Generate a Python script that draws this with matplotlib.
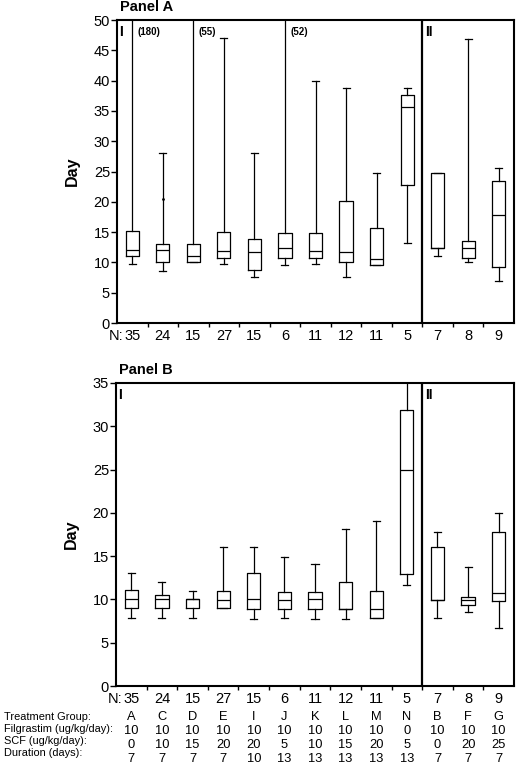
import matplotlib
matplotlib.use('Agg')
import matplotlib.pyplot as plt
import matplotlib.transforms as mtransforms
import numpy as np

plt.rcParams['font.family'] = ['Liberation Sans', 'DejaVu Sans']

# groups in plotting order
groups = ['A', 'C', 'D', 'E', 'I', 'J', 'K', 'L', 'M', 'N', 'B', 'F', 'G']
n_pts = [35, 24, 15, 27, 15, 6, 11, 12, 11, 5, 7, 8, 9]
filgrastim = [10, 10, 10, 10, 10, 10, 10, 10, 10, 0, 10, 10, 10]
scf = [0, 10, 15, 20, 20, 5, 10, 15, 20, 5, 0, 20, 25]
duration = [7, 7, 7, 7, 10, 13, 13, 13, 13, 13, 7, 7, 7]

# Panel A box stats (days)
a_lo = [9.7, 8.6, 10.0, 9.7, 7.6, 9.6, 9.8, 7.6, 9.5, 13.2, 11.1, 10.1, 6.9]
a_q1 = [11.0, 10.0, 10.0, 10.8, 8.8, 10.7, 10.7, 10.1, 9.5, 22.7, 12.4, 10.8, 9.3]
a_med = [12.0, 12.0, 11.0, 11.9, 11.7, 12.3, 11.8, 11.7, 10.6, 35.7, 12.4, 12.4, 17.8]
a_q3 = [15.2, 13.0, 13.0, 15.0, 13.8, 14.8, 14.8, 20.2, 15.6, 37.6, 24.8, 13.5, 23.5]
a_hi = [180, 28.0, 55, 47.0, 28.0, 52, 40.0, 38.8, 24.8, 38.8, 24.8, 46.8, 25.6]
a_out = [[], [20.5], [], [], [], [], [], [], [], [], [], [], []]

# Panel B box stats (days)
b_lo = [7.9, 7.9, 7.9, 9.0, 7.7, 7.8, 7.7, 7.7, 7.9, 11.7, 7.8, 8.6, 6.7]
b_q1 = [9.0, 9.0, 9.0, 9.0, 8.9, 8.9, 8.9, 8.9, 7.9, 12.9, 9.9, 9.4, 9.8]
b_med = [10.0, 10.1, 10.0, 9.9, 10.0, 9.9, 10.0, 8.9, 8.9, 25.0, 9.9, 9.9, 10.8]
b_q3 = [11.1, 10.5, 10.0, 11.0, 13.0, 10.9, 10.9, 12.0, 11.0, 31.9, 16.0, 10.3, 17.8]
b_hi = [13.1, 12.0, 11.0, 16.1, 16.1, 14.9, 14.1, 18.1, 19.1, 38.0, 17.8, 13.7, 20.0]

W, H = 520, 769
fig = plt.figure(figsize=(W / 100, H / 100), dpi=100)


def fy(px):
    return 1 - px / H


def make_stats(lo, q1, med, q3, hi, out=None):
    st = []
    for i in range(len(lo)):
        st.append(dict(whislo=lo[i], q1=q1[i], med=med[i], q3=q3[i], whishi=hi[i],
                       fliers=(out[i] if out else [])))
    return st


def panel(rect, stats, ymax, title):
    ax = fig.add_axes(rect)
    pos = np.arange(1, len(groups) + 1)
    lw = 0.9
    ax.bxp(stats, positions=pos, widths=0.43, capwidths=0.23,
           boxprops=dict(color='black', linewidth=lw),
           whiskerprops=dict(color='black', linewidth=lw),
           capprops=dict(color='black', linewidth=lw),
           medianprops=dict(color='black', linewidth=lw),
           flierprops=dict(marker='o', markersize=1.0, markerfacecolor='black',
                           markeredgecolor='black'))
    ax.set_xlim(0.5, len(groups) + 0.5)
    ax.set_ylim(0, ymax)
    ax.set_yticks(np.arange(0, ymax + 1, 5))
    ax.set_xticks(pos)
    ax.set_xticklabels([str(n) for n in n_pts])
    ax.set_xticks(np.arange(1.5, len(groups), 1), minor=True)
    ax.tick_params(axis='x', which='major', length=0, pad=4.5, labelsize=10.5)
    ax.tick_params(axis='x', which='minor', length=3, width=1)
    ax.tick_params(axis='y', length=4, width=1, labelsize=10.5, pad=1)
    for s in ax.spines.values():
        s.set_linewidth(1.5)
    ax.axvline(10.5, color='black', linewidth=1.6)
    ax.set_ylabel('Day', fontsize=11.5, fontweight='bold', labelpad=10)
    ax.annotate(title, xy=(0.0, 1.0), xycoords='axes fraction',
                xytext=(2, 4), textcoords='offset points', fontsize=10.5,
                fontweight='bold', ha='left', va='bottom')
    ax.text(0.57, ymax * 0.985, 'I', fontsize=10, fontweight='bold', va='top')
    ax.text(10.6, ymax * 0.985, 'II', fontsize=10, fontweight='bold', va='top')
    trans = mtransforms.blended_transform_factory(ax.transData, ax.transAxes)
    ax.annotate('N:', xy=(0.7, 0.0), xycoords=trans, xytext=(0, -4.5),
                textcoords='offset points', ha='right', va='top', fontsize=10.5)
    return ax


axA = panel([117 / W, fy(323), 397 / W, 303 / H],
            make_stats(a_lo, a_q1, a_med, a_q3, a_hi, a_out), 50, 'Panel A')
# whiskers running off the top of panel A
for i, v in enumerate(a_hi):
    if v > 50:
        axA.text(i + 1.17, 48.0, '(%d)' % v, fontsize=7, fontweight='bold',
                 ha='left', va='center')

axB = panel([116 / W, fy(686), 398 / W, 303 / H],
            make_stats(b_lo, b_q1, b_med, b_q3, b_hi), 35, 'Panel B')

# treatment table under panel B
row_labels = ['Treatment Group:', 'Filgrastim (ug/kg/day):', 'SCF (ug/kg/day):',
              'Duration (days):']
label_y = [717, 729, 741, 753]
value_y = [717, 731, 745, 759]
rows = [groups, filgrastim, scf, duration]
tb = mtransforms.blended_transform_factory(axB.transData, fig.transFigure)
for lab, ly, vy, vals in zip(row_labels, label_y, value_y, rows):
    fig.text(4 / W, fy(ly), lab, fontsize=7.9, ha='left', va='center')
    for j, v in enumerate(vals):
        fig.text(j + 1, fy(vy), str(v), transform=tb, fontsize=9.3,
                 ha='center', va='center')

fig.savefig('out.png', dpi=100)
